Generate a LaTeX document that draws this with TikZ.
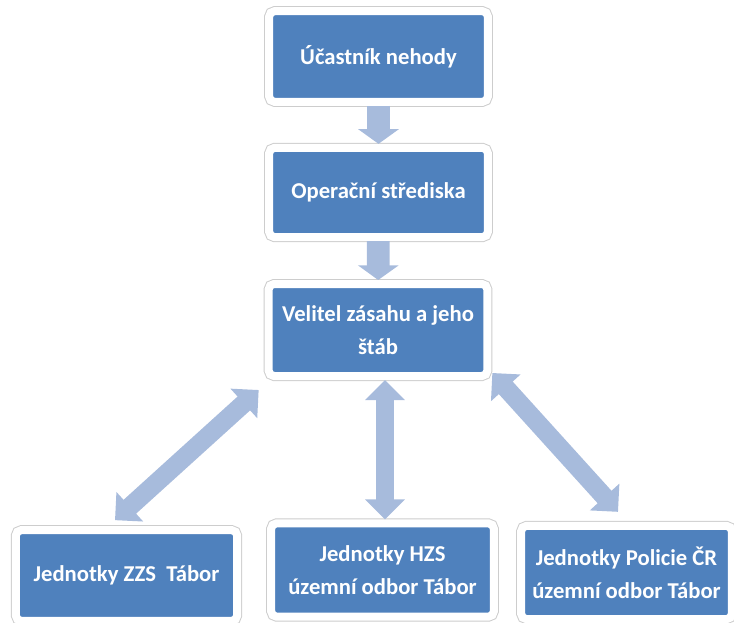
\documentclass[tikz,border=0pt]{standalone}
\usepackage{fontspec}
\setmainfont{Carlito}
\usepackage{tikz}
\usetikzlibrary{arrows.meta, positioning, calc}

\definecolor{boxblue}{RGB}{79,129,189}
\definecolor{arrowblue}{RGB}{167,187,220}
\definecolor{framegray}{RGB}{205,205,205}

\begin{document}
\begin{tikzpicture}[x=0.75pt, y=-0.75pt,
  box/.style={rectangle, rounded corners=4pt, fill=boxblue, draw=white, line width=6pt,
    preaction={draw=framegray, line width=7.5pt}, text=white, align=center, inner sep=0pt,
    font=\bfseries\fontsize{17}{25}\selectfont},
  fatarrow/.style={draw=arrowblue, line width=17pt, -{Triangle[length=11pt, width=30pt]}},
  twoway/.style={draw=arrowblue, line width=14pt,
    {Triangle[length=15pt, width=29pt]}-{Triangle[length=15pt, width=29pt]}}]
  \useasboundingbox (0,0) rectangle (734,622);

  % Chain from top
  \node[box, minimum width=164pt, minimum height=68pt] (ucastnik) at (378.5,56.5) {Účastník nehody};
  \node[box, minimum width=164pt, minimum height=67pt] (strediska) at (378.5,192.5) {Operační střediska};
  \node[box, minimum width=164pt, minimum height=69pt] (velitel) at (378,330) {Velitel zásahu a jeho\\ štáb};

  % Units
  \node[box, minimum width=166pt, minimum height=68pt] (zzs) at (126.5,575.5) {Jednotky ZZS\ \ Tábor};
  \node[box, minimum width=167pt, minimum height=70pt] (hzs) at (382.5,570) {Jednotky HZS\\ územní odbor Tábor};
  \node[box, minimum width=158pt, minimum height=70pt] (policie) at (626.5,572.5) {Jednotky Policie ČR\\ územní odbor Tábor};

  % Arrows
  \draw[fatarrow] (ucastnik) -- (strediska);
  \draw[fatarrow] (strediska) -- (velitel);
  \draw[twoway] ($(velitel.south west)+(-6,10)$) -- ($(zzs.north)+(-11.5,-6)$);
  \draw[twoway] ($(velitel.south)+(7,0)$) -- ($(hzs.north)+(2.5,0)$);
  \draw[twoway] ($(velitel.south east)+(1,-7)$) -- ($(policie.north)+(-8.5,-10)$);
\end{tikzpicture}
\end{document}
